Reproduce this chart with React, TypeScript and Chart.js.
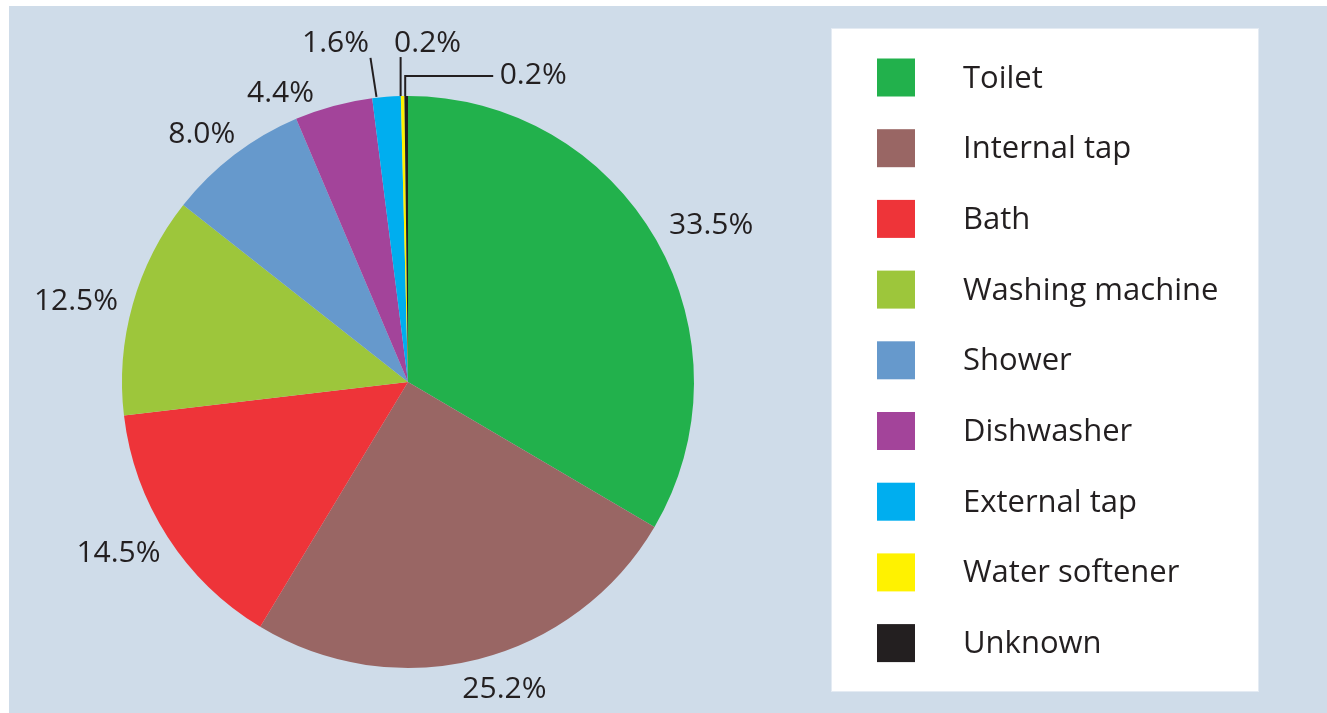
import React, { useEffect, useRef } from "react";
import { Chart, registerables } from "chart.js";

Chart.register(...registerables);

const categories = [
  "Toilet",
  "Internal tap",
  "Bath",
  "Washing machine",
  "Shower",
  "Dishwasher",
  "External tap",
  "Water softener",
  "Unknown",
];
const shares = [33.5, 25.2, 14.5, 12.5, 8.0, 4.4, 1.6, 0.2, 0.2];
const valueLabels = shares.map((v) => v.toFixed(1) + "%");
const sliceColors = [
  "#22b14c",
  "#996664",
  "#ee3439",
  "#9dc63b",
  "#6699cc",
  "#a3449a",
  "#00aeef",
  "#fff200",
  "#231f20",
];

// label placement styling (not data)
type LabelLayout =
  | { kind: "radial"; nudge: [number, number] }
  | { kind: "leader"; path: [number, number][]; text: [number, number] };
const labelLayout: LabelLayout[] = [
  { kind: "radial", nudge: [1, 0] },
  { kind: "radial", nudge: [11, -1] },
  { kind: "radial", nudge: [3, -1] },
  { kind: "radial", nudge: [3, 4] },
  { kind: "radial", nudge: [0, 3] },
  { kind: "radial", nudge: [-39, 17] },
  { kind: "leader", path: [[-10, 0], [-16, -39]], text: [-51, -54] },
  { kind: "leader", path: [[-2, 0], [-2, -39]], text: [25, -54] },
  { kind: "leader", path: [[-1, 0], [-1, -20], [87, -20]], text: [127, -22] },
];

const LABEL_FONT = '30px "Open Sans", "DejaVu Sans", sans-serif';
const LEGEND_FONT = '31px "Open Sans", "DejaVu Sans", sans-serif';
const TEXT_COLOR = "#231f20";
const PANEL_BG = "#cfdce9";

const backgroundPlugin = {
  id: "panelBackground",
  beforeDraw(chart: any) {
    const ctx = chart.ctx;
    ctx.save();
    ctx.fillStyle = "#ffffff";
    ctx.fillRect(0, 0, chart.width, chart.height);
    ctx.fillStyle = PANEL_BG;
    ctx.fillRect(9, 6, chart.width - 9, chart.height - 6);
    ctx.restore();
  },
};

const labelsPlugin = {
  id: "sliceLabels",
  afterDatasetsDraw(chart: any) {
    const ctx = chart.ctx;
    const meta = chart.getDatasetMeta(0);
    ctx.save();
    ctx.font = LABEL_FONT;
    ctx.fillStyle = TEXT_COLOR;
    ctx.strokeStyle = TEXT_COLOR;
    ctx.textAlign = "center";
    ctx.textBaseline = "middle";
    meta.data.forEach((arc: any, i: number) => {
      const { x, y, startAngle, endAngle, outerRadius } = arc.getProps(
        ["x", "y", "startAngle", "endAngle", "outerRadius"],
        true
      );
      const mid = (startAngle + endAngle) / 2;
      const dx = Math.cos(mid);
      const dy = Math.sin(mid);
      const text = valueLabels[i];
      const layout = labelLayout[i];
      const px = x + dx * outerRadius;
      const py = y + dy * outerRadius;
      if (layout.kind === "radial") {
        const w = ctx.measureText(text).width;
        const R = outerRadius + 20;
        const tx = x + dx * R + (dx * w) / 2 + layout.nudge[0];
        const ty = y + dy * R + dy * 11 + layout.nudge[1];
        ctx.fillText(text, tx, ty + 1);
      } else {
        ctx.lineWidth = 2;
        ctx.beginPath();
        layout.path.forEach((p, k) => {
          if (k === 0) ctx.moveTo(px + p[0], py + p[1]);
          else ctx.lineTo(px + p[0], py + p[1]);
        });
        ctx.stroke();
        ctx.fillText(text, px + layout.text[0], py + layout.text[1] + 1);
      }
    });
    ctx.restore();
  },
};

const legendPlugin = {
  id: "boxLegend",
  afterDraw(chart: any) {
    const ctx = chart.ctx;
    const box = { left: 831, top: 28, right: 1259, bottom: 692 };
    ctx.save();
    ctx.fillStyle = "#ffffff";
    ctx.fillRect(box.left, box.top, box.right - box.left, box.bottom - box.top);
    ctx.strokeStyle = "#e4ebf3";
    ctx.lineWidth = 1;
    ctx.strokeRect(box.left + 0.5, box.top + 0.5, box.right - box.left - 1, box.bottom - box.top - 1);
    const firstCenter = 77.5;
    const step = 70.7;
    const swatch = 38;
    ctx.font = LEGEND_FONT;
    ctx.textAlign = "left";
    ctx.textBaseline = "alphabetic";
    categories.forEach((name, i) => {
      const cy = firstCenter + i * step;
      ctx.fillStyle = sliceColors[i];
      ctx.fillRect(877, cy - swatch / 2, swatch, swatch);
      ctx.fillStyle = TEXT_COLOR;
      ctx.fillText(name, 963, cy + 10);
    });
    ctx.restore();
  },
};

export default function App() {
  const canvasRef = useRef<HTMLCanvasElement | null>(null);

  useEffect(() => {
    let chart: Chart | null = null;
    let cancelled = false;
    const create = () => {
      if (cancelled || !canvasRef.current) return;
      chart = new Chart(canvasRef.current, {
        type: "pie",
        data: {
          labels: categories,
          datasets: [
            {
              data: shares,
              backgroundColor: sliceColors,
              borderWidth: 0,
            },
          ],
        },
        options: {
          responsive: false,
          maintainAspectRatio: false,
          animation: false,
          devicePixelRatio: 1,
          layout: { padding: { left: 122, right: 633, top: 96, bottom: 45 } },
          plugins: {
            legend: { display: false },
            tooltip: { enabled: false },
          },
        },
        plugins: [backgroundPlugin, labelsPlugin, legendPlugin],
      });
    };
    const fonts = (document as any).fonts;
    if (fonts && fonts.load) {
      Promise.all([fonts.load(LABEL_FONT), fonts.load(LEGEND_FONT)]).then(create, create);
    } else {
      create();
    }
    return () => {
      cancelled = true;
      if (chart) chart.destroy();
    };
  }, []);

  return (
    <div style={{ position: "absolute", left: 0, top: 0, width: 1327, height: 713 }}>
      <canvas ref={canvasRef} width={1327} height={713} style={{ display: "block" }} />
    </div>
  );
}
